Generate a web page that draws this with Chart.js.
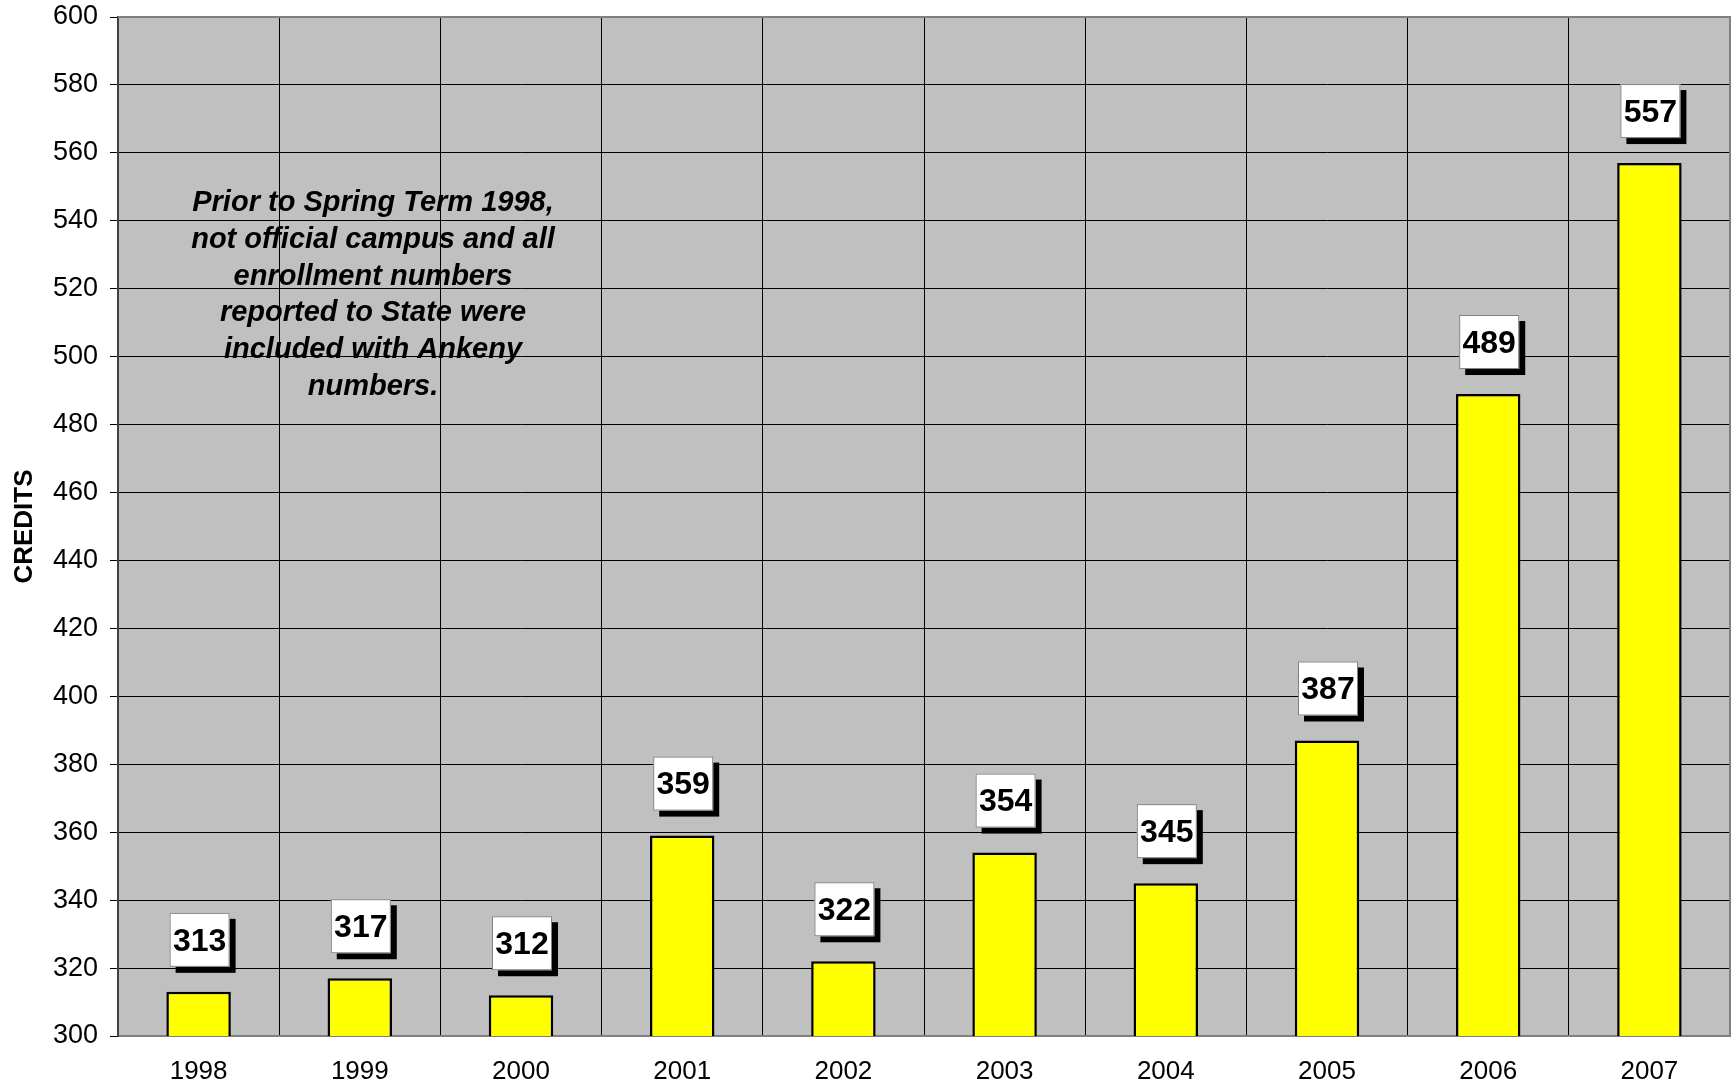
<!DOCTYPE html>
<html>
<head>
<meta charset="utf-8">
<script src="https://cdn.jsdelivr.net/npm/chart.js@4.4.0/dist/chart.umd.min.js"></script>
<style>
  html, body { margin: 0; padding: 0; background: #fff; }
  #wrap { width: 1735px; height: 1087px; }
</style>
</head>
<body>
<div id="wrap"><canvas id="creditsChart"></canvas></div>
<script>
// data
const years = ['1998', '1999', '2000', '2001', '2002', '2003', '2004', '2005', '2006', '2007'];
const credits = [313, 317, 312, 359, 322, 354, 345, 387, 489, 557];
const yAxisTitle = 'CREDITS';
const noteLines = [
    'Prior to Spring Term 1998,',
    'not official campus and all',
    'enrollment numbers',
    'reported to State were',
    'included with Ankeny',
    'numbers.'
];

const FONT = '"Liberation Sans", Arial, sans-serif';

// gray plot background + top/right frame
const plotFrame = {
    id: 'plotFrame',
    beforeDraw: (chart) => {
        const { ctx, chartArea: a } = chart;
        ctx.save();
        ctx.fillStyle = '#C0C0C0';
        ctx.fillRect(a.left, a.top, a.right - a.left, a.bottom - a.top);
        ctx.restore();
    },
    beforeDatasetsDraw: (chart) => {
        const { ctx, chartArea: a } = chart;
        ctx.save();
        ctx.strokeStyle = '#808080';
        ctx.lineWidth = 2;
        ctx.beginPath();
        ctx.moveTo(a.left, a.top);
        ctx.lineTo(a.right, a.top);
        ctx.lineTo(a.right, a.bottom);
        ctx.stroke();
        ctx.restore();
    }
};

// white value boxes with a black drop shadow
const valueBoxes = {
    id: 'valueBoxes',
    afterDatasetsDraw: (chart) => {
        const { ctx } = chart;
        const meta = chart.getDatasetMeta(0);
        ctx.save();
        ctx.font = 'bold 32px ' + FONT;
        ctx.textAlign = 'center';
        ctx.textBaseline = 'middle';
        meta.data.forEach((bar, i) => {
            const w = 60, h = 54;
            const x = bar.x - w / 2 + 1;
            const y = bar.y - 25 - h;
            ctx.fillStyle = '#000';
            ctx.fillRect(x + 6, y + 6, w, h);
            ctx.fillStyle = '#fff';
            ctx.fillRect(x, y, w, h);
            ctx.strokeStyle = '#808080';
            ctx.lineWidth = 1;
            ctx.strokeRect(x + 0.5, y + 0.5, w - 1, h - 1);
            ctx.fillStyle = '#000';
            ctx.fillText(String(credits[i]), x + w / 2, y + h / 2 + 2);
        });
        ctx.restore();
    }
};

// italic note in the upper left of the plot
const noteText = {
    id: 'noteText',
    afterDatasetsDraw: (chart) => {
        const { ctx, chartArea: a } = chart;
        ctx.save();
        ctx.font = 'italic bold 29px ' + FONT;
        ctx.fillStyle = '#000';
        ctx.textAlign = 'center';
        ctx.textBaseline = 'middle';
        noteLines.forEach((line, i) => {
            ctx.fillText(line, a.left + 255, a.top + 186 + i * 36.8);
        });
        ctx.restore();
    }
};

new Chart(document.getElementById('creditsChart'), {
    type: 'bar',
    data: {
        labels: years,
        datasets: [{
            data: credits,
            backgroundColor: '#FFFF00',
            borderColor: '#000',
            borderWidth: 2.5,
            borderSkipped: false,
            barPercentage: 0.4,
            categoryPercentage: 1.0
        }]
    },
    options: {
        responsive: true,
        maintainAspectRatio: false,
        animation: false,
        layout: { padding: { top: 17, right: 5, left: 0, bottom: 0 } },
        plugins: {
            legend: { display: false },
            tooltip: { enabled: false }
        },
        scales: {
            x: {
                offset: true,
                grid: { offset: true, color: '#000', lineWidth: 1, drawTicks: false },
                border: { color: '#808080', width: 2 },
                ticks: { color: '#000', font: { family: FONT, size: 26 }, padding: 20, maxRotation: 0 },
                afterFit: (s) => { s.height = 51; }
            },
            y: {
                min: 300,
                max: 600,
                grid: { color: '#000', lineWidth: 1, tickLength: 8, tickColor: '#000' },
                border: { color: '#404040', width: 2 },
                ticks: { stepSize: 20, color: '#000', font: { family: FONT, size: 27 }, padding: 12 },
                title: {
                    display: true,
                    text: yAxisTitle,
                    color: '#000',
                    font: { family: FONT, size: 26, weight: 'bold' },
                    padding: { top: 9, bottom: 0 }
                },
                afterFit: (s) => {
                    s.width = 118;
                    s.paddingTop = 0;
                    s.paddingBottom = 0;
                }
            }
        }
    },
    plugins: [plotFrame, valueBoxes, noteText]
});
</script>
</body>
</html>
